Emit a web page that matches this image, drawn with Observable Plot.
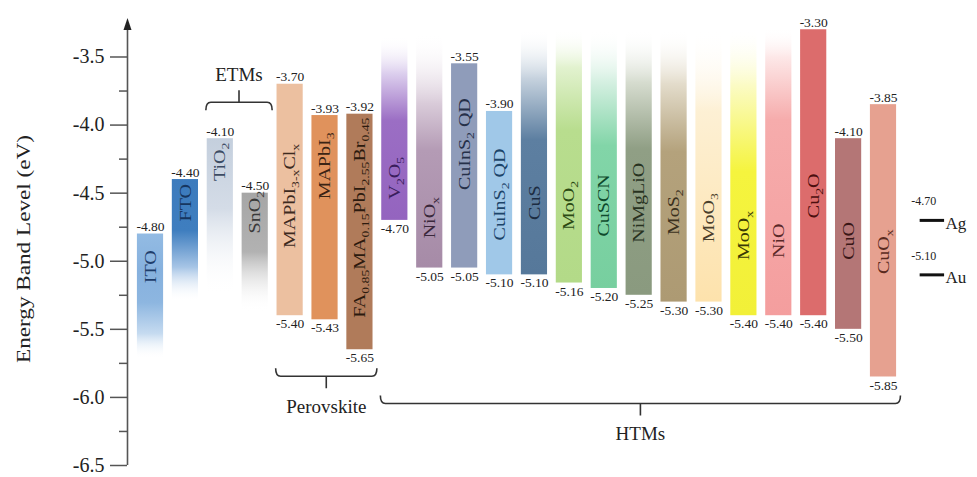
<!DOCTYPE html>
<html><head><meta charset="utf-8">
<script src="https://cdn.jsdelivr.net/npm/d3@7"></script>
<script src="https://cdn.jsdelivr.net/npm/@observablehq/plot@0.6"></script>
<style>html,body{margin:0;padding:0;background:#fff;} #chart{width:977px;height:477px;overflow:hidden}</style>
</head><body><div id="chart"></div>
<script>
// ---------- data ----------
const materials = ["ITO","FTO","TiO_{2}","SnO_{2}","MAPbI_{3-x}Cl_{x}","MAPbI_{3}",
  "FA_{0.85}MA_{0.15}PbI_{2.55}Br_{0.45}","V_{2}O_{5}","NiO_{x}","CuInS_{2} QD","CuInS_{2} QD",
  "CuS","MoO_{2}","CuSCN","NiMgLiO","MoS_{2}","MoO_{3}","MoO_{x}","NiO","Cu_{2}O","CuO","CuO_{x}"];
// labelled upper level (eV), null when the bar fades out at the top
const vbTop = [-4.80,-4.40,-4.10,-4.50,-3.70,-3.93,-3.92,null,null,-3.55,-3.90,
  null,null,null,null,null,null,null,null,-3.30,-4.10,-3.85];
// labelled lower level (eV), null when the bar fades out at the bottom
const vbBottom = [null,null,null,null,-5.40,-5.43,-5.65,-4.70,-5.05,-5.05,-5.10,
  -5.10,-5.16,-5.20,-5.25,-5.30,-5.30,-5.40,-5.40,-5.40,-5.50,-5.85];
// level where the faded end of a bar disappears (estimated)
const fadeEnd = [-5.72,-5.30,-5.25,-5.37,null,null,null,-3.35,-3.33,null,null,
  -3.30,-3.30,-3.30,-3.30,-3.30,-3.30,-3.29,-3.29,null,null,null];
// level at which each material name is centred (estimated)
const nameLevel = [-5.04,-4.57,-4.27,-4.64,-4.52,-4.30,-4.68,-4.39,-4.68,-4.14,-4.51,
  -4.57,-4.59,-4.59,-4.57,-4.64,-4.68,-4.81,-4.85,-4.52,-4.85,-4.93];
const yTicks = [-6.5,-6.0,-5.5,-5.0,-4.5,-4.0,-3.5];
const yMinorTicks = [-6.25,-5.75,-5.25,-4.75,-4.25,-3.75];
const electrodes = ["Ag","Au"];
const workFunction = [-4.70,-5.10];
const groupNames = ["ETMs","Perovskite","HTMs"];
const groupFirst = [2,4,7];
const groupLast = [3,6,21];
const yTitle = "Energy Band Level (eV)";

// ---------- styles ----------
const barStops = [
  [[0,"#93bbe3"],[0.3,"#86b1de"],[0.55,"#8db6e0"],[0.8,"#c6dbf0"],[1,"#ffffff",0]],
  [[0,"#3c7bbd"],[0.42,"#3f7ebf"],[0.72,"#a7c5e6"],[1,"#ffffff",0]],
  [[0,"#c4cfdd"],[0.45,"#d4dce7"],[1,"#ffffff",0]],
  [[0,"#a6a6a6"],[0.5,"#b2b2b2"],[1,"#ffffff",0]],
  "#ecc0a0","#e0925c","#b07b5a",
  [[0,"#ffffff",0],[0.2,"#ddd0ee"],[0.46,"#9b6ec4"],[1,"#9464bf"]],
  [[0,"#ffffff",0],[0.3,"#d9cbd9"],[0.5,"#b49bb5"],[1,"#a68ba7"]],
  "#8f9cba","#a0c8e8",
  [[0,"#ffffff",0],[0.2,"#c6d2de"],[0.45,"#5d7fa1"],[1,"#56789a"]],
  [[0,"#ffffff",0],[0.15,"#e2f2cf"],[0.4,"#b8dd8e"],[1,"#b3da88"]],
  [[0,"#ffffff",0],[0.2,"#d6f0e2"],[0.45,"#82d5a8"],[1,"#77cf9f"]],
  [[0,"#ffffff",0],[0.2,"#d6dccf"],[0.45,"#909f85"],[1,"#8a9a7f"]],
  [[0,"#ffffff",0],[0.2,"#e3dccb"],[0.45,"#b4a27c"],[1,"#ad9a73"]],
  [[0,"#ffffff",0],[0.3,"#fdf0d4"],[1,"#fde2ac"]],
  [[0,"#ffffff",0],[0.2,"#fbfbc4"],[0.5,"#f5f43e"],[1,"#f2f038"]],
  [[0,"#ffffff",0],[0.1,"#fde8e8"],[0.32,"#f6acac"],[1,"#f49e9e"]],
  "#dc6c6c","#b47676","#e6a190"
];
const inkColors = ["#1e3d6b","#163660","#3c4c63","#3a3a3a","#3d2a1e","#3b2414","#2c1a0e",
  "#3a1d5c","#3a283b","#263049","#1c4468","#1c2c42","#2c4a14","#0f4a2c","#28321f","#3b311d",
  "#4a3f2c","#3a3a05","#5a2828","#4a0e0e","#3a1616","#5a2a20"];
const serif = "'Liberation Serif','Times New Roman',serif";

const plain = s => s.replace(/_\{([^}]*)\}/g, "$1");
const rows = materials.map((name, i) => ({
  i, name, plain: plain(name), top: vbTop[i], bottom: vbBottom[i],
  y1: vbTop[i] ?? fadeEnd[i], y2: vbBottom[i] ?? fadeEnd[i], at: nameLevel[i]
}));
const n = materials.length;
const elec = electrodes.map((name, k) => ({name, v: workFunction[k]}));

const plot = Plot.plot({
  width: 977, height: 477,
  marginLeft: 127, marginRight: 0, marginTop: 20, marginBottom: 12,
  style: {fontFamily: serif, fontSize: "14px", background: "white", color: "#222"},
  x: {domain: [0, n - 1], range: [150, 883], axis: null},
  y: {domain: [-6.5, -3.232]},
  color: {type: "identity"},
  marks: [
    Plot.axisY({ticks: yTicks, tickSize: 17, tickPadding: 6, tickFormat: d => d.toFixed(1),
      fontSize: 20, fontFamily: serif, stroke: "#555", strokeWidth: 1.5, fill: "#222", label: null}),
    Plot.axisY({ticks: yMinorTicks, tickSize: 8, tickFormat: () => "", stroke: "#555", strokeWidth: 1.5, label: null}),
    Plot.text([yTitle], {frameAnchor: "left", text: d => d, rotate: -90, textAnchor: "middle",
      dx: -104, dy: 6, fontSize: 19, fontFamily: serif, fill: "#222"}),
    Plot.rect(rows, {x1: d => d.i - 0.375, x2: d => d.i + 0.375, y1: "y1", y2: "y2",
      fill: d => `url(#bg${d.i})`}),
    Plot.text(rows.filter(d => d.top != null), {x: "i", y: "top", text: d => d.top.toFixed(2),
      lineAnchor: "bottom", dy: -3, fontSize: 13.5, fontFamily: serif, fill: "#222"}),
    Plot.text(rows.filter(d => d.bottom != null), {x: "i", y: "bottom", text: d => d.bottom.toFixed(2),
      lineAnchor: "top", dy: 3, fontSize: 13.5, fontFamily: serif, fill: "#222"}),
    Plot.text(rows, {x: "i", y: "at", text: "plain", rotate: -90, textAnchor: "middle", fontSize: 16,
      fontFamily: serif, fill: d => inkColors[d.i]}),
    Plot.ruleY(elec, {y: "v", x1: () => n + 0.05, x2: () => n + 0.75, stroke: "#111", strokeWidth: 3}),
    Plot.text(elec, {x: () => n + 0.15, y: "v", text: d => d.v.toFixed(2), dy: -19, fontSize: 12, fontFamily: serif, fill: "#222"}),
    Plot.text(elec, {x: () => n + 0.75, y: "v", text: "name", textAnchor: "start", dx: 1, dy: 3, fontSize: 17, fontFamily: serif, fill: "#222"})
  ]
});
document.getElementById("chart").appendChild(plot);

// ---------- decorations drawn through the plot's scales ----------
const svg = d3.select(plot);
const xs = plot.scale("x"), ys = plot.scale("y");
const X = v => xs.apply(v), Y = v => ys.apply(v);

const defs = svg.insert("defs", ":first-child");
barStops.forEach((st, i) => {
  const g = defs.append("linearGradient").attr("id", "bg" + i)
    .attr("x1", 0).attr("y1", 0).attr("x2", 0).attr("y2", 1);
  const stops = typeof st === "string" ? [[0, st], [1, st]] : st;
  stops.forEach(([o, c, a]) => g.append("stop").attr("offset", o).attr("stop-color", c).attr("stop-opacity", a ?? 1));
});

// axis line with arrow head
const axisX = 127.5;
const yLo = Y(ys.domain[0]), yHi = Y(ys.domain[1]);
const ax = svg.append("g");
ax.append("line").attr("x1", axisX).attr("x2", axisX).attr("y1", yLo).attr("y2", yHi + 6)
  .attr("stroke", "#555").attr("stroke-width", 1.6);
ax.append("path").attr("d", `M${axisX},${yHi - 2} L${axisX - 4},${yHi + 10} L${axisX + 4},${yHi + 10}Z`).attr("fill", "#222");

// group brackets
groupNames.forEach((g, k) => {
  const idx = d3.range(groupFirst[k], groupLast[k] + 1);
  const above = k === 0;
  const s = above ? 1 : -1;
  const xa = X(groupFirst[k] - 0.4), xb = X(groupLast[k] + 0.5), xm = (xa + xb) / 2;
  const y = above ? Y(d3.max(idx, i => vbTop[i] ?? fadeEnd[i])) - 36
                  : Y(d3.min(idx, i => vbBottom[i] ?? fadeEnd[i])) + 27;
  svg.append("path")
    .attr("d", `M${xa},${y + s * 8} Q${xa},${y} ${xa + 5},${y} L${xb - 5},${y} Q${xb},${y} ${xb},${y + s * 8} M${xm},${y} L${xm},${y - s * 12}`)
    .attr("fill", "none").attr("stroke", "#333").attr("stroke-width", 1.6);
  svg.append("text").attr("x", xm).attr("y", above ? y - 28 : y + 30)
    .attr("text-anchor", "middle").attr("dominant-baseline", "central")
    .attr("font-family", serif).attr("font-size", 19).attr("fill", "#222").text(g);
});

// find text elements by content (in document order)
const allTexts = Array.from(plot.querySelectorAll("text"));
const used = new Set();
function findText(str, rotated) {
  const el = allTexts.find(t => !used.has(t) && t.textContent === str &&
    (!rotated || (t.getAttribute("transform") || "").includes("rotate")));
  if (el) used.add(el);
  return el;
}

// title stretched to the reference length
const titleEl = findText(yTitle, true);
if (titleEl) { titleEl.setAttribute("textLength", 228); titleEl.setAttribute("lengthAdjust", "spacingAndGlyphs"); }

// subscripts + stretched material names
rows.forEach(r => {
  const el = findText(r.plain, true);
  if (!el) return;
  const markup = r.name;
  el.textContent = "";
  const re = /_\{([^}]*)\}/g; let last = 0, m; const parts = [];
  while ((m = re.exec(markup))) {
    if (m.index > last) parts.push([markup.slice(last, m.index), false]);
    parts.push([m[1], true]); last = re.lastIndex;
  }
  if (last < markup.length) parts.push([markup.slice(last), false]);
  let cur = 0;
  for (const [t, sub] of parts) {
    const ts = document.createElementNS("http://www.w3.org/2000/svg", "tspan");
    const target = sub ? 4 : 0;
    if (target !== cur) ts.setAttribute("dy", target - cur);
    cur = target;
    if (sub) ts.setAttribute("font-size", 11);
    ts.textContent = t;
    el.appendChild(ts);
  }
  const tr = el.getAttribute("transform") || "";
  el.setAttribute("transform", tr + " scale(1.25,1)");
});
</script>
</body></html>
